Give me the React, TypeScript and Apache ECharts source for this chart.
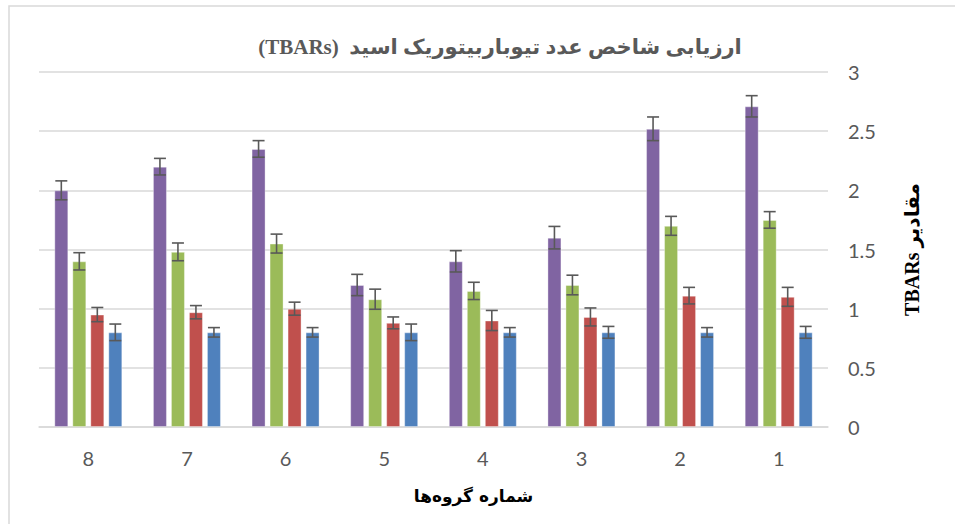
import React, { useEffect, useRef } from "react";
import * as echarts from "echarts";

const categories = ["8", "7", "6", "5", "4", "3", "2", "1"];
const purpleValues = [2.0, 2.2, 2.35, 1.2, 1.4, 1.6, 2.52, 2.71];
const purpleErrors = [0.08, 0.07, 0.07, 0.09, 0.09, 0.095, 0.1, 0.09];
const greenValues = [1.4, 1.48, 1.55, 1.08, 1.15, 1.2, 1.7, 1.75];
const greenErrors = [0.073, 0.075, 0.08, 0.085, 0.073, 0.083, 0.08, 0.07];
const redValues = [0.95, 0.97, 1.0, 0.88, 0.9, 0.93, 1.11, 1.1];
const redErrors = [0.06, 0.056, 0.055, 0.05, 0.085, 0.076, 0.07, 0.08];
const blueValues = [0.8, 0.8, 0.8, 0.8, 0.8, 0.8, 0.8, 0.8];
const blueErrors = [0.07, 0.04, 0.04, 0.07, 0.04, 0.05, 0.04, 0.05];
const yTicks = { min: 0, max: 3, interval: 0.5 };

const titleText = "(TBARs)  ارزیابی شاخص عدد تیوباربیتوریک اسید";
const yName = "TBARs مقادیر";
const xName = "شماره گروه‌ها";

const BAR_W = 14;
const BAR_GAP = 4;
const COLORS = ["#8064A2", "#9BBB59", "#C0504D", "#4F81BD"];

export default function App() {
  const ref = useRef<HTMLDivElement>(null);
  useEffect(() => {
    if (!ref.current) return;
    const chart = echarts.init(ref.current, undefined, { renderer: "svg" });
    const groups = [
      { v: purpleValues, e: purpleErrors },
      { v: greenValues, e: greenErrors },
      { v: redValues, e: redErrors },
      { v: blueValues, e: blueErrors },
    ];
    const n = groups.length;
    const total = n * BAR_W + (n - 1) * BAR_GAP;
    const barSeries = groups.map((g, i) => ({
      type: "bar",
      data: g.v,
      barWidth: BAR_W,
      barGap: (BAR_GAP / BAR_W) * 100 + "%",
      itemStyle: {
        color: COLORS[i],
        borderColor: "rgba(255,255,255,0.35)",
        borderWidth: 1,
      },
      z: 2,
    }));
    const errSeries = groups.map((g, i) => {
      const offset = -total / 2 + BAR_W / 2 + i * (BAR_W + BAR_GAP);
      return {
        type: "custom",
        data: g.v.map((v, k) => [k, v - g.e[k], v + g.e[k]]),
        encode: { x: 0, y: [1, 2] },
        z: 5,
        renderItem: (params: any, api: any) => {
          const k = api.value(0);
          const lo = api.coord([k, api.value(1)]);
          const hi = api.coord([k, api.value(2)]);
          const x = lo[0] + offset;
          const cap = 6;
          const style = { stroke: "#595959", lineWidth: 1.6 };
          return {
            type: "group",
            children: [
              { type: "line", shape: { x1: x, y1: lo[1], x2: x, y2: hi[1] }, style },
              { type: "line", shape: { x1: x - cap, y1: lo[1], x2: x + cap, y2: lo[1] }, style },
              { type: "line", shape: { x1: x - cap, y1: hi[1], x2: x + cap, y2: hi[1] }, style },
            ],
          };
        },
      };
    });
    chart.setOption({
      animation: false,
      backgroundColor: "#ffffff",
      title: {
        text: titleText,
        left: 495,
        top: 31,
        textAlign: "center",
        textStyle: {
          fontFamily: "'Liberation Serif', 'DejaVu Sans', serif",
          fontWeight: "bold",
          fontSize: 21,
          color: "#595959",
        },
      },
      graphic: [
        {
          type: "rect",
          shape: { x: 9, y: 6, width: 980, height: 560 },
          style: { fill: "none", stroke: "#d9d9d9", lineWidth: 1.5 },
          silent: true,
        },
      ],
      grid: { left: 39, right: 127, top: 72, bottom: 97 },
      xAxis: {
        type: "category",
        data: categories,
        axisLine: { lineStyle: { color: "#d9d9d9", width: 1.5 } },
        axisTick: { show: false },
        axisLabel: {
          color: "#595959",
          fontSize: 20,
          fontFamily: "Lato, 'Open Sans', sans-serif",
          margin: 21,
        },
        name: xName,
        nameLocation: "middle",
        nameGap: 60,
        nameTextStyle: {
          fontFamily: "'DejaVu Sans', 'Liberation Serif', serif",
          fontWeight: "bold",
          fontSize: 17,
          color: "#000000",
          padding: [0, 0, 0, 80],
        },
      },
      yAxis: {
        type: "value",
        position: "right",
        min: yTicks.min,
        max: yTicks.max,
        interval: yTicks.interval,
        axisLine: { show: false },
        axisTick: { show: false },
        splitLine: { lineStyle: { color: "#d9d9d9", width: 1.5 } },
        axisLabel: {
          color: "#595959",
          fontSize: 20,
          fontFamily: "Lato, 'Open Sans', sans-serif",
          margin: 20,
        },
        name: yName,
        nameLocation: "middle",
        nameRotate: 90,
        nameGap: 74,
        nameTextStyle: {
          fontFamily: "'Liberation Serif', 'DejaVu Sans', serif",
          fontWeight: "bold",
          fontSize: 20,
          color: "#000000",
        },
      },
      series: [...barSeries, ...errSeries],
    });
    return () => chart.dispose();
  }, []);
  return (
    <div
      ref={ref}
      style={{ position: "fixed", left: 0, top: 0, width: 955, height: 524 }}
    />
  );
}
